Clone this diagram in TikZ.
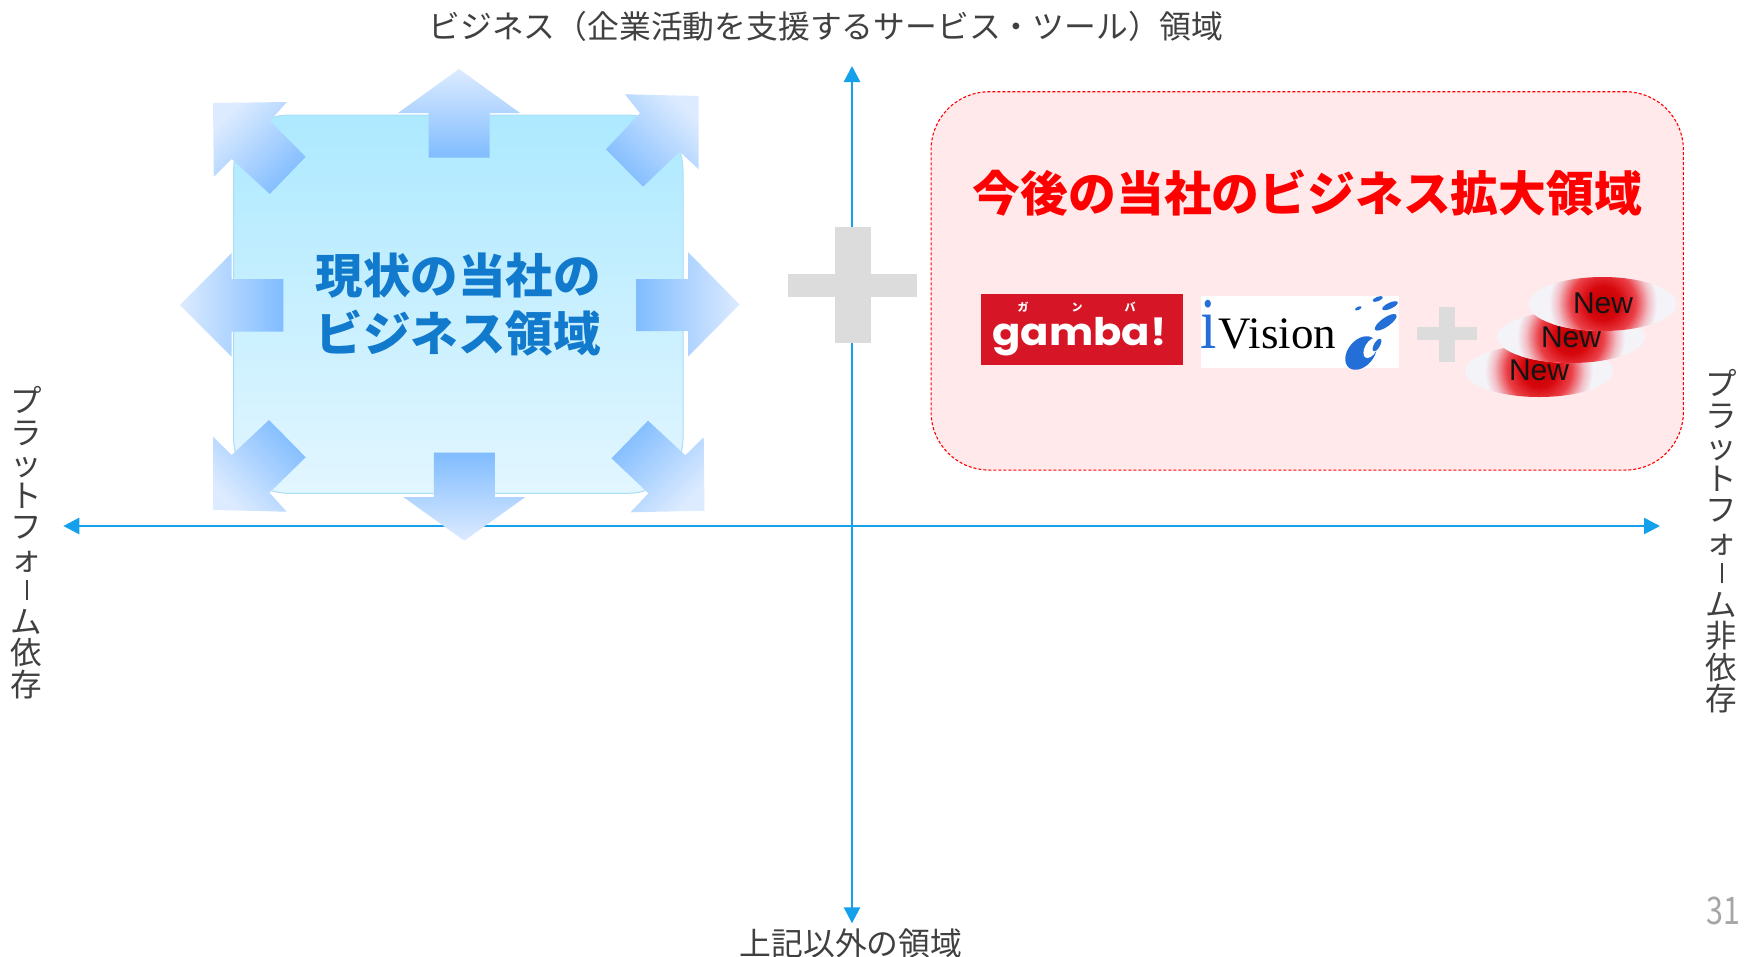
\documentclass[tikz,border=0pt]{standalone}
\usepackage{fontspec}
\usepackage{graphicx}
\usetikzlibrary{arrows.meta,shapes.geometric}
\setmainfont{Noto Sans CJK JP}
\newfontfamily\latinsans{Liberation Sans}
\newfontfamily\latinserif{Liberation Serif}
\newfontfamily\popfont{Poppins}
\newcommand\fs[1]{\fontsize{#1}{#1}\selectfont}
\newcommand\choonv{\rule[0.05em]{0.06em}{0.64em}}
\definecolor{axisblue}{RGB}{20,160,235}
\definecolor{blueA}{RGB}{173,233,255}
\definecolor{blueB}{RGB}{226,246,255}
\definecolor{blueborder}{RGB}{170,222,247}
\definecolor{arrowlight}{RGB}{220,235,255}
\definecolor{arrowdark}{RGB}{128,188,255}
\definecolor{textblue}{RGB}{18,122,204}
\definecolor{pinkfill}{RGB}{255,233,235}
\definecolor{gambared}{RGB}{214,22,38}
\definecolor{ivblue}{RGB}{35,110,215}
\definecolor{plusgray}{RGB}{220,220,220}
\definecolor{labelgray}{RGB}{64,64,64}
\definecolor{numgray}{RGB}{166,166,166}
\definecolor{newbase}{RGB}{243,243,248}
\definecolor{newtext}{RGB}{20,20,20}
\pgfdeclareradialshading{newglow}{\pgfpoint{0bp}{0bp}}{rgb(0bp)=(0.76,0,0); rgb(8bp)=(0.84,0.03,0.05); rgb(15bp)=(0.92,0.25,0.28); rgb(21bp)=(0.95,0.75,0.78); rgb(25bp)=(0.953,0.953,0.973); rgb(50bp)=(0.953,0.953,0.973)}
\begin{document}
\begin{tikzpicture}[x=1pt,y=-1pt,
  axis/.style={draw=axisblue,line width=2.7pt,{Triangle[width=16pt,length=16pt]}-{Triangle[width=16pt,length=16pt]}},
  lbl/.style={inner sep=0pt,text=labelgray,font=\fs{31.8}},
  vlbl/.style={inner sep=0pt,text=labelgray,font=\fs{31.5},align=center},
  curbox/.style={rectangle,rounded corners=55pt,minimum width=449.4pt,minimum height=378.3pt,
    top color=blueA,bottom color=blueB,draw=blueborder,line width=1pt,
    text=textblue,font=\fontsize{47.5}{58}\selectfont\bfseries,align=center,inner sep=0pt},
  futbox/.style={rectangle,rounded corners=58pt,minimum width=752.3pt,minimum height=378.3pt,
    fill=pinkfill,draw=red,dash pattern=on 3pt off 2pt,line width=1.1pt},
  futtitle/.style={inner sep=0pt,text=red,font=\fs{47.8}\bfseries},
  shadeN/.style={top color=arrowlight,bottom color=arrowdark},
  shadeS/.style={top color=arrowdark,bottom color=arrowlight},
  shadeW/.style={left color=arrowlight,right color=arrowdark},
  shadeE/.style={left color=arrowdark,right color=arrowlight},
  shadeNW/.style={top color=arrowlight,bottom color=arrowdark,shading angle=45},
  shadeNE/.style={top color=arrowlight,bottom color=arrowdark,shading angle=-45},
  shadeSW/.style={top color=arrowdark,bottom color=arrowlight,shading angle=-45},
  shadeSE/.style={top color=arrowdark,bottom color=arrowlight,shading angle=45},
  gambabox/.style={rectangle,fill=gambared,minimum width=202pt,minimum height=71pt,inner sep=0pt},
  gambatxt/.style={inner sep=0pt,text=white,font=\popfont\fs{38}\bfseries},
  kana/.style={inner sep=0pt,text=white,font=\fs{11}\bfseries},
  ivbox/.style={rectangle,fill=white,minimum width=198pt,minimum height=72.3pt,inner sep=0pt},
  newtxt/.style={inner sep=0pt,text=newtext,font=\latinsans\fs{30}},
  pagenum/.style={inner sep=0pt,text=numgray,font=\fs{38}}
]
\useasboundingbox (0,0) rectangle (1748,956);
\fill[white] (0,0) rectangle (1748,956);

% axes
\coordinate (xl) at (63.3,526);
\coordinate (xr) at (1660,526);
\coordinate (yt) at (852,66);
\coordinate (yb) at (852,923.3);
\draw[axis] (xl) -- (xr);
\draw[axis] (yb) -- (yt);

% axis labels
\node[lbl] (ttop) at (826,26) {ビジネス（企業活動を支援するサービス・ツール）領域};
\node[lbl] (tbot) at (851,943) {上記以外の領域};
\node[vlbl] (tleft) at (26.7,542.5) {プ\\ラ\\ッ\\ト\\フ\\ォ\\\choonv\\ム\\依\\存};
\node[vlbl] (tright) at (1721.7,541.5) {プ\\ラ\\ッ\\ト\\フ\\ォ\\\choonv\\ム\\非\\依\\存};
\node[pagenum] (pnum) at (1723,911) {\scalebox{0.8}[1]{31}};

% current business area
\node[curbox] (cur) at (458.3,304.2) {現状の当社の\\ビジネス領域};

% expansion arrows
\shade[shadeN] (428.5,157.7) -- (428.5,113) -- (398,113) -- (459,69) -- (520,113) -- (489.5,113) -- (489.5,157.7) -- cycle;
\shade[shadeS] (433.8,452.7) -- (494.8,452.7) -- (494.8,497) -- (525.4,497) -- (464.3,540.7) -- (403.3,497) -- (433.8,497) -- cycle;
\shade[shadeW] (283.4,279) -- (231.7,279) -- (231.7,253) -- (180,305) -- (231.7,356.7) -- (231.7,331.7) -- (283.4,331.7) -- cycle;
\shade[shadeE] (636,279) -- (688,279) -- (688,252) -- (739.5,304.5) -- (688,356.7) -- (688,331) -- (636,331) -- cycle;
\shade[shadeNW] (213,103) -- (287,102) -- (269.8,121) -- (305.7,156.7) -- (269.8,194) -- (231.7,159) -- (213.8,176.7) -- cycle;
\shade[shadeNE] (625,94.3) -- (698.7,96) -- (698.7,169.3) -- (679.7,151.7) -- (643,186.7) -- (606,149.3) -- (640,113.3) -- cycle;
\shade[shadeSW] (213,436.7) -- (231.7,455) -- (269,420) -- (305.7,457.3) -- (269.4,492.7) -- (286.7,511.7) -- (213,510) -- cycle;
\shade[shadeSE] (648,420.7) -- (685.4,455.3) -- (703.7,437.3) -- (704.5,510.7) -- (630.5,512.3) -- (648.5,493.3) -- (611.5,458.3) -- cycle;

% big plus
\fill[plusgray] (835.3,226.7) rectangle (870.7,343.3);
\fill[plusgray] (788.3,274) rectangle (917.3,296.7);

% future business area
\node[futbox] (fut) at (1307.2,280.9) {};
\node[futtitle] (ftitle) at (1307.5,193) {今後の当社のビジネス拡大領域};

% gamba logo
\node[gambabox] (gamba) at (1082,329.5) {};
\node[gambatxt,anchor=base] (gtxt) at (1079.5,345) {\scalebox{1.1}[1]{gamba!}};
\node[kana] (k1) at (1023,307) {ガ};
\node[kana] (k2) at (1077,307) {ン};
\node[kana] (k3) at (1130,307) {バ};

% iVision logo
\node[ivbox] (iv) at (1300,332.2) {};
\node[inner sep=0pt,anchor=base west,text=ivblue,font=\latinserif\fs{56}] (ivi) at (1200,348.3) {\scalebox{1.05}[1.3]{i}};
\node[inner sep=0pt,anchor=base west,text=black,font=\latinserif\fs{45}] (ivtxt) at (1218.5,348.3) {Vision};
\fill[ivblue,rotate around={25:(1358.3,308.3)}] (1358.3,308.3) ellipse (3.5pt and 1.6pt);
\fill[ivblue,rotate around={22:(1377.7,299)}] (1377.7,299) ellipse (5.5pt and 2.2pt);
\fill[ivblue,rotate around={25:(1390,305.7)}] (1390,305.7) ellipse (8.5pt and 3pt);
\fill[ivblue,rotate around={35:(1385.7,322.3)}] (1385.7,322.3) ellipse (13pt and 4.5pt);
\fill[ivblue,rotate around={50:(1361,353)}] (1361,353) ellipse (19pt and 13pt);
\fill[white,rotate around={60:(1371,348)}] (1371,348) ellipse (11pt and 6pt);
\fill[ivblue,rotate around={60:(1377,345)}] (1377,345) ellipse (7pt and 3pt);

% small plus
\fill[plusgray] (1439.3,306.7) rectangle (1455.3,361.7);
\fill[plusgray] (1416.7,326.7) rectangle (1477.3,340);

% New bubbles
\begin{scope}
  \clip (1539,371) ellipse (74pt and 26pt);
  \fill[newbase] (1539,371) ellipse (74pt and 26pt);
  \shade[shading=newglow] (1539,370) circle (54pt);
\end{scope}
\node[newtxt] (new3) at (1539,370) {New};
\begin{scope}
  \clip (1571,337) ellipse (74pt and 26pt);
  \fill[newbase] (1571,337) ellipse (74pt and 26pt);
  \shade[shading=newglow] (1571,337) circle (54pt);
\end{scope}
\node[newtxt] (new2) at (1571,337) {New};
\begin{scope}
  \clip (1602.5,304) ellipse (74pt and 27pt);
  \fill[newbase] (1602.5,304) ellipse (74pt and 27pt);
  \shade[shading=newglow] (1603,303) circle (54pt);
\end{scope}
\node[newtxt] (new1) at (1603,303) {New};
\end{tikzpicture}
\end{document}
